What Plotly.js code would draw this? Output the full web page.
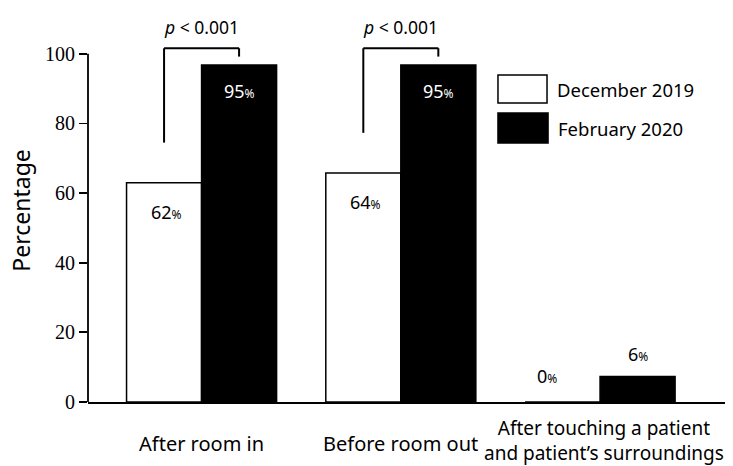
<!DOCTYPE html>
<html>
<head>
<meta charset="utf-8">
<script src="https://cdn.plot.ly/plotly-3.0.1.min.js"></script>
<style>html,body{margin:0;padding:0;background:#fff;}#chart{width:733px;height:466px;}</style>
</head>
<body>
<div id="chart"></div>
<script>
// ---- data ----
const categories = ["After room in", "Before room out", "After touching a patient<br>and patient’s surroundings"];
const seriesNames = ["December 2019", "February 2020"];
const dec2019 = [63, 65.8, 0];
const feb2020 = [96.8, 96.8, 7.3];
const dec2019Labels = ["62", "64", "0"];
const feb2020Labels = ["95", "95", "6"];
const pLabels = ["<i>p</i> &lt; 0.001", "<i>p</i> &lt; 0.001", ""];
const yTicks = [0, 20, 40, 60, 80, 100];

// ---- styling ----
const SANS = "Noto Sans, Open Sans, sans-serif";
const SERIF = "Liberation Serif, Times New Roman, serif";
const bargap = 0.247;
const half = (1 - bargap) / 4;

const traces = [
  {type: "bar", name: seriesNames[0], x: categories, y: dec2019,
   marker: {color: "#ffffff", line: {color: "#000", width: 1.5}}, hoverinfo: "none"},
  {type: "bar", name: seriesNames[1], x: categories, y: feb2020,
   marker: {color: "#000000", line: {color: "#000", width: 1.5}}, hoverinfo: "none"}
];

const annotations = [];
const shapes = [];
function pct(v) { return v + '<span style="font-size:12px">%</span>'; }

categories.forEach((c, i) => {
  const dIn = dec2019[i] > 20, fIn = feb2020[i] > 20;
  annotations.push({x: i - half, y: dec2019[i], xref: "x", yref: "y", text: pct(dec2019Labels[i]),
    showarrow: false, yanchor: "middle", yshift: dIn ? -29 : 26,
    xshift: dIn ? 2 : -16,
    font: {family: SANS, size: 18, color: "#000"}});
  annotations.push({x: i + half, y: feb2020[i], xref: "x", yref: "y", text: pct(feb2020Labels[i]),
    showarrow: false, yanchor: "middle", yshift: fIn ? -26 : 23,
    font: {family: SANS, size: 18, color: fIn ? "#fff" : "#000"}});
  if (pLabels[i]) {
    const top = Math.max(dec2019[i], feb2020[i]) + 4.8;
    const lb = dec2019[i] + 11.5;
    const rb = feb2020[i] + 2.4;
    const ln = {color: "#000", width: 2};
    shapes.push({type: "line", xref: "x", yref: "y", x0: i - half, x1: i - half, y0: lb, y1: top, line: ln});
    shapes.push({type: "line", xref: "x", yref: "y", x0: i - half, x1: i + half, y0: top, y1: top, line: ln});
    shapes.push({type: "line", xref: "x", yref: "y", x0: i + half, x1: i + half, y0: rb, y1: top, line: ln});
    annotations.push({x: i, y: top, xref: "x", yref: "y", text: pLabels[i], showarrow: false,
      yanchor: "middle", yshift: 21, font: {family: SANS, size: 17.5, color: "#000"}});
  }
  // category label below the axis
  const multi = c.indexOf("<br>") >= 0;
  annotations.push({x: i, xref: "x", yref: "paper", y: 0, showarrow: false, text: c,
    xshift: multi ? 4 : 0,
    yanchor: multi ? "bottom" : "middle", yshift: multi ? -(468.5 - 402.5) : -(444 - 402.5),
    font: {family: SANS, size: multi ? 19 : 20, color: "#000"}});
});

// y axis line from 0 to 100 only
shapes.push({type: "line", xref: "paper", yref: "y", x0: 0, x1: 0, y0: 0, y1: yTicks[yTicks.length - 1],
  line: {color: "#000", width: 1.8}});

// custom legend
const legendBoxes = [
  {x0: 0.6436, x1: 0.7206, y0: 0.7807, y1: 0.8538, fill: "#ffffff", ty: 0.8172},
  {x0: 0.6436, x1: 0.7222, y0: 0.6762, y1: 0.7546, fill: "#000000", ty: 0.7154}
];
legendBoxes.forEach((b, k) => {
  shapes.push({type: "rect", xref: "paper", yref: "paper", x0: b.x0, x1: b.x1, y0: b.y0, y1: b.y1,
    fillcolor: b.fill, line: {color: "#000", width: 1.5}});
  annotations.push({xref: "paper", yref: "paper", x: b.x1 + 0.012, y: b.ty, xanchor: "left", yanchor: "middle",
    text: seriesNames[k], showarrow: false, font: {family: SANS, size: 18.5, color: "#000"}});
});

const layout = {
  width: 733, height: 466,
  margin: {l: 88, r: 8, t: 19, b: 64},
  paper_bgcolor: "#fff", plot_bgcolor: "#fff",
  showlegend: false,
  barmode: "group", bargap: bargap, bargroupgap: 0,
  xaxis: {type: "category", range: [-0.57, 2.627], showline: true, linecolor: "#000", linewidth: 1.8,
    ticks: "", showgrid: false, zeroline: false, showticklabels: false},
  yaxis: {range: [0, 110], tickvals: yTicks, ticktext: yTicks.map(String), ticks: "outside", ticklen: 8,
    tickwidth: 1.8, tickcolor: "#000", showline: false, showgrid: false, zeroline: false,
    tickfont: {family: SERIF, size: 20, color: "#000"},
    title: {text: "Percentage", font: {family: SANS, size: 23, color: "#000"}, standoff: 7}},
  shapes: shapes,
  annotations: annotations
};

Plotly.newPlot("chart", traces, layout, {staticPlot: true, displayModeBar: false});
</script>
</body>
</html>
